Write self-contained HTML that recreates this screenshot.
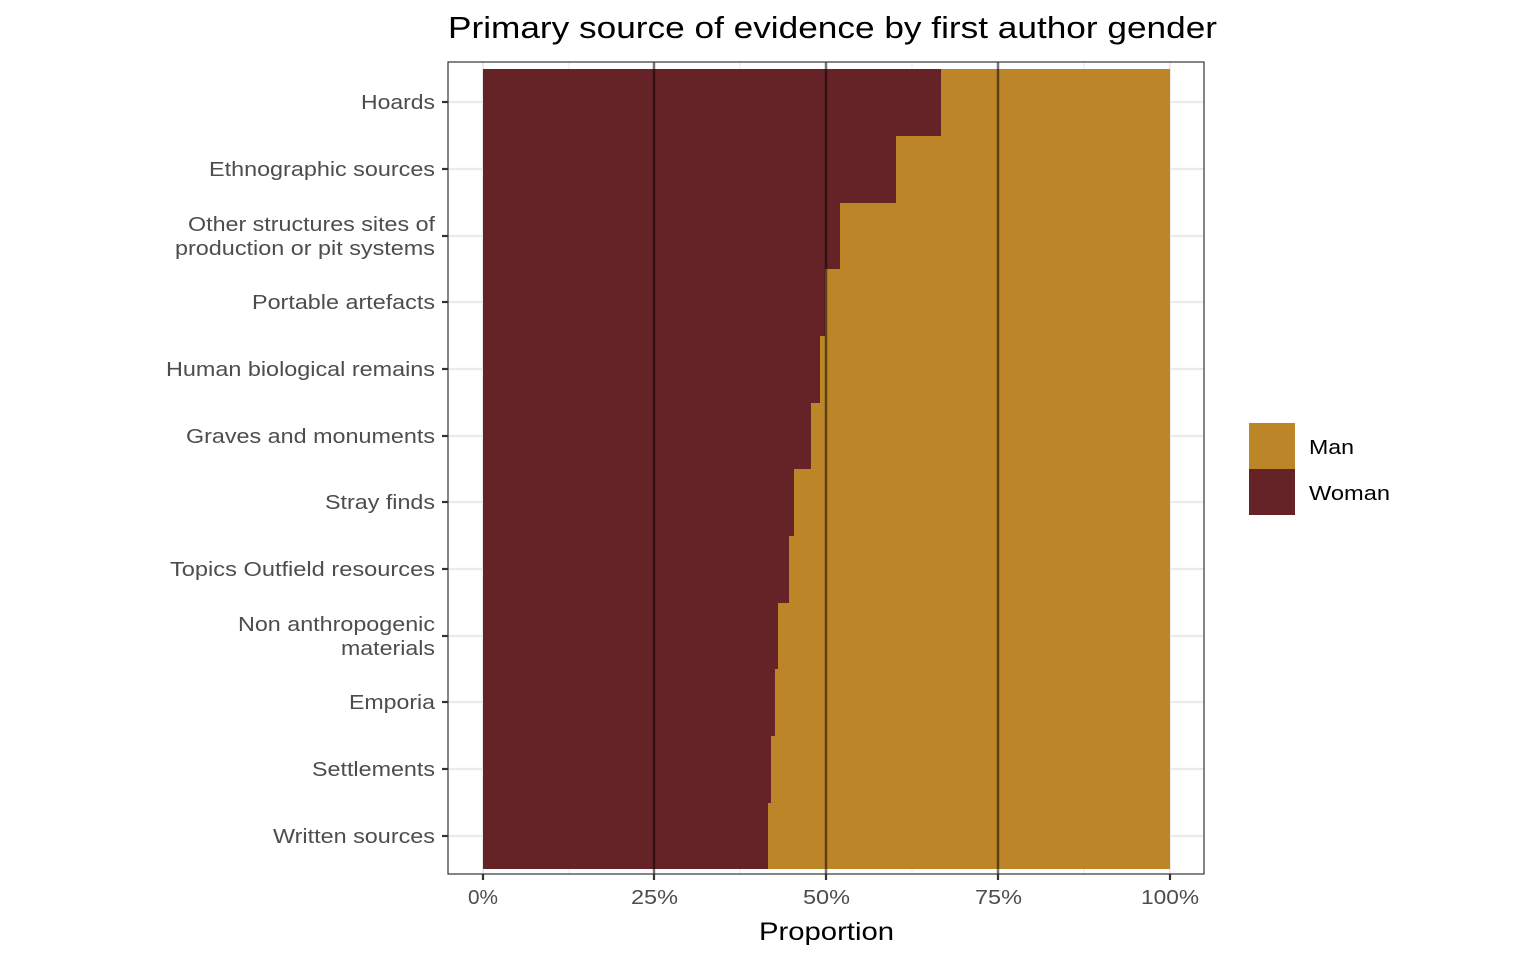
<!DOCTYPE html>
<html><head><meta charset="utf-8"><style>body{margin:0;background:#fff}svg text{font-family:"Liberation Sans",Arial,sans-serif}</style></head>
<body>
<svg width="1536" height="960" xmlns="http://www.w3.org/2000/svg">
<rect width="1536" height="960" fill="#fff"/>
<text x="448" y="38" font-size="31" fill="#000" textLength="769" lengthAdjust="spacingAndGlyphs">Primary source of evidence by first author gender</text>
<g stroke="#ebebeb" stroke-width="2.2">
<line x1="448" x2="1204" y1="102" y2="102"/><line x1="448" x2="1204" y1="169" y2="169"/><line x1="448" x2="1204" y1="236" y2="236"/><line x1="448" x2="1204" y1="302" y2="302"/><line x1="448" x2="1204" y1="369" y2="369"/><line x1="448" x2="1204" y1="436" y2="436"/><line x1="448" x2="1204" y1="502" y2="502"/><line x1="448" x2="1204" y1="569" y2="569"/><line x1="448" x2="1204" y1="636" y2="636"/><line x1="448" x2="1204" y1="702" y2="702"/><line x1="448" x2="1204" y1="769" y2="769"/><line x1="448" x2="1204" y1="836" y2="836"/>
<line y1="62" y2="874" x1="483" x2="483"/><line y1="62" y2="874" x1="654" x2="654"/><line y1="62" y2="874" x1="826" x2="826"/><line y1="62" y2="874" x1="998" x2="998"/><line y1="62" y2="874" x1="1170" x2="1170"/>
<line y1="62" y2="874" x1="569" x2="569" stroke-width="1.1"/><line y1="62" y2="874" x1="740" x2="740" stroke-width="1.1"/><line y1="62" y2="874" x1="912" x2="912" stroke-width="1.1"/><line y1="62" y2="874" x1="1084" x2="1084" stroke-width="1.1"/>
</g>
<g fill="#BC8527"><rect x="483" y="69" width="687" height="800"/></g>
<g fill="#662327">
<rect x="483" y="69" width="458" height="67"/>
<rect x="483" y="135" width="413" height="68"/>
<rect x="483" y="202" width="357" height="67"/>
<rect x="483" y="269" width="342" height="67"/>
<rect x="483" y="335" width="337" height="68"/>
<rect x="483" y="402" width="328" height="67"/>
<rect x="483" y="469" width="311" height="67"/>
<rect x="483" y="535" width="306" height="68"/>
<rect x="483" y="602" width="295" height="67"/>
<rect x="483" y="669" width="292" height="67"/>
<rect x="483" y="735" width="288" height="68"/>
<rect x="483" y="802" width="285" height="67"/>
</g>
<g stroke="#000" stroke-opacity="0.5" stroke-width="2.5">
<line x1="654" x2="654" y1="62" y2="874"/><line x1="826" x2="826" y1="62" y2="874"/><line x1="998" x2="998" y1="62" y2="874"/>
</g>
<rect x="448" y="62" width="756" height="812" fill="none" stroke="#333" stroke-width="1.2"/>
<g stroke="#333" stroke-width="2.2">
<line x1="442" x2="448" y1="102" y2="102"/><line x1="442" x2="448" y1="169" y2="169"/><line x1="442" x2="448" y1="236" y2="236"/><line x1="442" x2="448" y1="302" y2="302"/><line x1="442" x2="448" y1="369" y2="369"/><line x1="442" x2="448" y1="436" y2="436"/><line x1="442" x2="448" y1="502" y2="502"/><line x1="442" x2="448" y1="569" y2="569"/><line x1="442" x2="448" y1="636" y2="636"/><line x1="442" x2="448" y1="702" y2="702"/><line x1="442" x2="448" y1="769" y2="769"/><line x1="442" x2="448" y1="836" y2="836"/>
<line y1="874" y2="880" x1="483" x2="483"/><line y1="874" y2="880" x1="654" x2="654"/><line y1="874" y2="880" x1="826" x2="826"/><line y1="874" y2="880" x1="998" x2="998"/><line y1="874" y2="880" x1="1170" x2="1170"/>
</g>
<g font-size="20" fill="#4d4d4d" lengthAdjust="spacingAndGlyphs">
<text x="361" y="109" textLength="74" lengthAdjust="spacingAndGlyphs">Hoards</text>
<text x="209" y="176" textLength="226" lengthAdjust="spacingAndGlyphs">Ethnographic sources</text>
<text x="188" y="231" textLength="247" lengthAdjust="spacingAndGlyphs">Other structures sites of</text>
<text x="175" y="255" textLength="260" lengthAdjust="spacingAndGlyphs">production or pit systems</text>
<text x="252" y="309" textLength="183" lengthAdjust="spacingAndGlyphs">Portable artefacts</text>
<text x="166" y="376" textLength="269" lengthAdjust="spacingAndGlyphs">Human biological remains</text>
<text x="186" y="443" textLength="249" lengthAdjust="spacingAndGlyphs">Graves and monuments</text>
<text x="325" y="509" textLength="110" lengthAdjust="spacingAndGlyphs">Stray finds</text>
<text x="170" y="576" textLength="265" lengthAdjust="spacingAndGlyphs">Topics Outfield resources</text>
<text x="238" y="631" textLength="197" lengthAdjust="spacingAndGlyphs">Non anthropogenic</text>
<text x="341" y="655" textLength="94" lengthAdjust="spacingAndGlyphs">materials</text>
<text x="349" y="709" textLength="86" lengthAdjust="spacingAndGlyphs">Emporia</text>
<text x="312" y="776" textLength="123" lengthAdjust="spacingAndGlyphs">Settlements</text>
<text x="273" y="843" textLength="162" lengthAdjust="spacingAndGlyphs">Written sources</text>
</g>
<g font-size="20" fill="#4d4d4d">
<text x="468" y="904" textLength="30" lengthAdjust="spacingAndGlyphs">0%</text>
<text x="631" y="904" textLength="47" lengthAdjust="spacingAndGlyphs">25%</text>
<text x="803" y="904" textLength="47" lengthAdjust="spacingAndGlyphs">50%</text>
<text x="975" y="904" textLength="47" lengthAdjust="spacingAndGlyphs">75%</text>
<text x="1141" y="904" textLength="58" lengthAdjust="spacingAndGlyphs">100%</text>
</g>
<text x="759" y="940" font-size="25" fill="#000" textLength="135" lengthAdjust="spacingAndGlyphs">Proportion</text>
<rect x="1249" y="423" width="46" height="46" fill="#BC8527"/>
<rect x="1249" y="469" width="46" height="46" fill="#662327"/>
<text x="1309" y="454" font-size="20" fill="#000" textLength="45" lengthAdjust="spacingAndGlyphs">Man</text>
<text x="1309" y="500" font-size="20" fill="#000" textLength="81" lengthAdjust="spacingAndGlyphs">Woman</text>
</svg>
</body></html>
